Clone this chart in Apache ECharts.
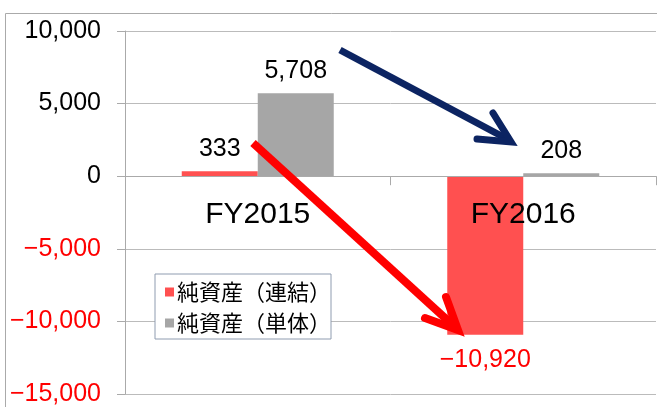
<!DOCTYPE html>
<html>
<head>
<meta charset="utf-8">
<script src="https://cdn.jsdelivr.net/npm/echarts@6/dist/echarts.min.js"></script>
<style>
  html, body { margin: 0; padding: 0; background: #fff; }
  #chart { width: 657px; height: 407px; }
</style>
</head>
<body>
<div id="chart"></div>
<script>
// Chart data
const categories = ['FY2015', 'FY2016'];
const consolidated = [333, -10920]; // 純資産（連結）
const standalone = [5708, 208]; // 純資産（単体）
const seriesNames = ['純資産（連結）', '純資産（単体）'];
const yTicks = { min: -15000, max: 10000, step: 5000 };

const numFont = '"Liberation Sans", Arial, sans-serif';
const jpFont = '"Noto Sans CJK JP", sans-serif';

function fmt(v) {
  const s = Math.abs(v).toLocaleString('en-US');
  return v < 0 ? '\u2212' + s : s;
}

const chart = echarts.init(document.getElementById('chart'));

const option = {
  animation: false,
  textStyle: { fontFamily: numFont },
  grid: { left: 125, right: 1, top: 31, bottom: 13, containLabel: false, outerBoundsMode: 'none' },
  legend: {
    orient: 'vertical',
    left: 155,
    top: 274,
    padding: [7, 0, 5, 10],
    itemGap: 9,
    itemWidth: 9,
    itemHeight: 9,
    icon: 'rect',
    backgroundColor: '#fff',
    borderColor: '#8f9cb0',
    borderWidth: 1,
    borderRadius: 0,
    textStyle: { fontFamily: jpFont, fontSize: 22, color: '#000', padding: [0, 0, 0, -2] },
    data: seriesNames,
  },
  xAxis: {
    type: 'category',
    data: categories,
    position: 'bottom',
    offset: 0,
    z: 10,
    axisLine: { show: true, onZero: false, lineStyle: { color: '#aaa', width: 1 } },
    axisTick: { show: true, length: 9, lineStyle: { color: '#aaa' } },
    axisLabel: { fontSize: 30, color: '#000', margin: 24, fontFamily: numFont },
  },
  yAxis: {
    type: 'value',
    min: yTicks.min,
    max: yTicks.max,
    interval: yTicks.step,
    axisLine: { show: true, lineStyle: { color: '#aaa' } },
    axisTick: { show: true, length: 8, lineStyle: { color: '#aaa' } },
    splitLine: { lineStyle: { color: '#bbb' } },
    axisLabel: {
      fontSize: 25,
      margin: 24,
      fontFamily: numFont,
      formatter: fmt,
      color: (v) => (Number(v) < 0 ? '#f00' : '#000'),
    },
  },
  series: [
    {
      name: seriesNames[0],
      type: 'bar',
      barWidth: 76,
      barGap: '0%',
      itemStyle: { color: '#ff5050' },
      label: {
        show: true,
        position: 'top',
        distance: 10,
        fontSize: 25,
        color: '#000',
        fontFamily: numFont,
        formatter: (p) => fmt(p.value),
      },
      data: consolidated.map((v) =>
        v < 0 ? { value: v, label: { position: 'bottom', color: '#f00', distance: 13 } } : v
      ),
    },
    {
      name: seriesNames[1],
      type: 'bar',
      barWidth: 76,
      barGap: '0%',
      itemStyle: { color: '#a6a6a6' },
      label: {
        show: true,
        position: 'top',
        distance: 10,
        fontSize: 25,
        color: '#000',
        fontFamily: numFont,
        formatter: (p) => fmt(p.value),
      },
      data: standalone,
    },
  ],
  graphic: [
    // outer frame
    {
      type: 'rect',
      shape: { x: 5.5, y: 13.5, width: 700, height: 450 },
      style: { fill: 'none', stroke: '#aaa', lineWidth: 1 },
      z: 0,
    },
    // navy arrow
    {
      type: 'polyline',
      shape: { points: [[340, 50], [509, 140]] },
      style: { stroke: '#0c2462', lineWidth: 7, fill: 'none' },
      z: 100,
    },
    {
      type: 'polyline',
      shape: { points: [[477, 139], [511, 142], [493, 113]] },
      style: { stroke: '#0c2462', lineWidth: 7, fill: 'none', lineCap: 'round', lineJoin: 'miter' },
      z: 100,
    },
    // red arrow
    {
      type: 'polyline',
      shape: { points: [[253, 143], [456, 328]] },
      style: { stroke: '#ff0000', lineWidth: 8, fill: 'none' },
      z: 100,
    },
    {
      type: 'polyline',
      shape: { points: [[425, 318], [458, 330], [446, 297]] },
      style: { stroke: '#ff0000', lineWidth: 8, fill: 'none', lineCap: 'round', lineJoin: 'miter' },
      z: 100,
    },
  ],
};

chart.setOption(option);

// Move the category axis (line, ticks, labels) up to the zero line of the value axis
const zeroY = chart.convertToPixel({ yAxisIndex: 0 }, 0);
const bottomY = chart.convertToPixel({ yAxisIndex: 0 }, yTicks.min);
chart.setOption({ xAxis: { offset: zeroY - bottomY } });
</script>
</body>
</html>
